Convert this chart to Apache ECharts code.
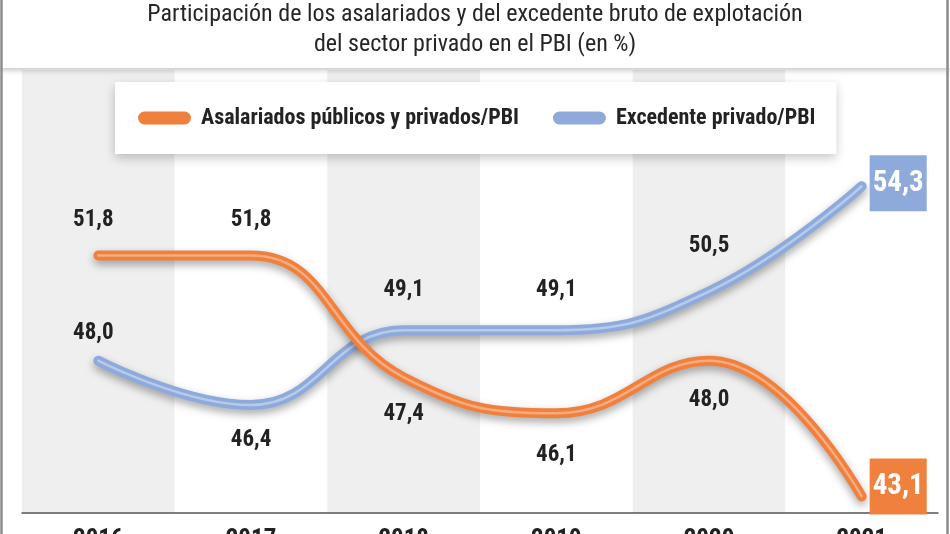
<!DOCTYPE html>
<html>
<head>
<meta charset="utf-8">
<script src="https://cdn.jsdelivr.net/npm/echarts@6/dist/echarts.min.js"></script>
<style>
html,body{margin:0;padding:0;background:#fff;}
#chart{width:950px;height:534px;}
</style>
</head>
<body>
<div id="chart"></div>
<script>
const titleText = 'Participación de los asalariados y del excedente bruto de explotación\ndel sector privado en el PBI (en %)';
const years = ['2016', '2017', '2018', '2019', '2020', '2021'];
const asalariados = [51.8, 51.8, 47.4, 46.1, 48.0, 43.1];
const excedente = [48.0, 46.4, 49.1, 49.1, 50.5, 54.3];
const nameAsal = 'Asalariados públicos y privados/PBI';
const nameExc = 'Excedente privado/PBI';

// label placement (layout only, not data)
const asalLabelSide = ['top', 'top', 'bottom', 'bottom', 'bottom'];
const asalLabelDist = [22, 22, 23, 28, 26];
const excLabelSide = ['top', 'bottom', 'top', 'top', 'top'];
const excLabelDist = [14, 22, 27, 27, 32];

const FONT = "'Liberation Sans Narrow', 'Roboto Condensed', Roboto, sans-serif";
const ORANGE = '#f0803d', ORANGE_HI = '#f8ab7c';
const BLUE = '#8eaadb', BLUE_HI = '#b7caec';

const fmt = v => v.toFixed(1).replace('.', ',');

function buildData(values, sides, dists, color, endOffset) {
  return values.map((v, i) => {
    const last = i === values.length - 1;
    if (last) {
      return { value: v, label: {
        show: true, position: 'right', distance: 7, offset: [0, endOffset],
        formatter: p => fmt(p.value), color: '#fff', fontSize: 29, fontWeight: 'bold',
        fontFamily: FONT, backgroundColor: color, padding: [11, 3, 9, 3], lineHeight: 36
      }};
    }
    return { value: v, label: {
      show: true, position: sides[i], distance: dists[i], offset: [i === 0 ? -5 : 0, 0]
    }};
  });
}

const baseLabel = { show: true, formatter: p => fmt(p.value), color: '#222', fontSize: 23, fontWeight: 'bold', fontFamily: FONT, lineHeight: 25 };

const chart = echarts.init(document.getElementById('chart'), null, { renderer: 'canvas' });
chart.setOption({
  animation: false,
  backgroundColor: '#fff',
  title: {
    text: titleText, left: 'center', top: 0, padding: 0, z: 20,
    textStyle: { fontFamily: FONT, fontSize: 24, fontWeight: 'normal', color: '#262626', lineHeight: 30 }
  },
  graphic: [
    { type: 'rect', z: 10, shape: { x: 0, y: 0, width: 950, height: 68 },
      style: { fill: '#fff', shadowBlur: 6, shadowColor: 'rgba(0,0,0,0.25)', shadowOffsetY: 2 } },
    { type: 'rect', z: 30, shape: { x: 1.5, y: -5, width: 946, height: 545 },
      style: { fill: 'none', stroke: '#8c8c8c', lineWidth: 2.5 } }
  ],
  legend: {
    left: 115, top: 82, padding: [25, 21, 25, 23], itemGap: 34,
    itemWidth: 53, itemHeight: 13,
    icon: 'path://M6.5,0 H46.5 A6.5,6.5 0 0 1 46.5,13 H6.5 A6.5,6.5 0 0 1 6.5,0 Z',
    backgroundColor: '#fff', shadowBlur: 10, shadowColor: 'rgba(0,0,0,0.22)', shadowOffsetY: 4,
    data: [ { name: nameAsal, itemStyle: { color: ORANGE } }, { name: nameExc, itemStyle: { color: BLUE } } ],
    textStyle: { fontFamily: FONT, fontSize: 22, fontWeight: 'bold', color: '#222', padding: [0, 0, 0, 5] },
    selectedMode: false
  },
  grid: { left: 22, right: 12, top: 70, bottom: 21, containLabel: false, outerBoundsMode: 'none' },
  xAxis: {
    type: 'category', data: years, boundaryGap: true,
    axisLine: { lineStyle: { color: '#555', width: 1.5 } },
    axisTick: { show: false },
    axisLabel: { margin: 15, color: '#222', fontSize: 25, fontWeight: 'bold', fontFamily: FONT },
    splitArea: { show: true, areaStyle: { color: ['#efefef', '#ffffff'] } }
  },
  yAxis: { type: 'value', min: 42.5, max: 58.5, show: false, splitLine: { show: false } },
  series: [
    { name: nameExc, type: 'line', smooth: 0.45, symbol: 'circle', symbolSize: 2,
      itemStyle: { color: BLUE },
      lineStyle: { color: BLUE, width: 10, cap: 'round', shadowBlur: 8, shadowColor: 'rgba(0,0,0,0.35)', shadowOffsetY: 4 },
      label: baseLabel, z: 3,
      data: buildData(excedente, excLabelSide, excLabelDist, BLUE, -3) },
    { name: '_excHi', type: 'line', smooth: 0.45, showSymbol: false, silent: true, z: 4,
      lineStyle: { color: BLUE_HI, width: 2.5, cap: 'round' }, data: excedente },
    { name: nameAsal, type: 'line', smooth: 0.45, symbol: 'circle', symbolSize: 2,
      itemStyle: { color: ORANGE },
      lineStyle: { color: ORANGE, width: 10, cap: 'round', shadowBlur: 8, shadowColor: 'rgba(0,0,0,0.35)', shadowOffsetY: 4 },
      label: baseLabel, z: 5,
      data: buildData(asalariados, asalLabelSide, asalLabelDist, ORANGE, -10) },
    { name: '_asalHi', type: 'line', smooth: 0.45, showSymbol: false, silent: true, z: 6,
      lineStyle: { color: ORANGE_HI, width: 2.5, cap: 'round' }, data: asalariados }
  ]
});
</script>
</body>
</html>
